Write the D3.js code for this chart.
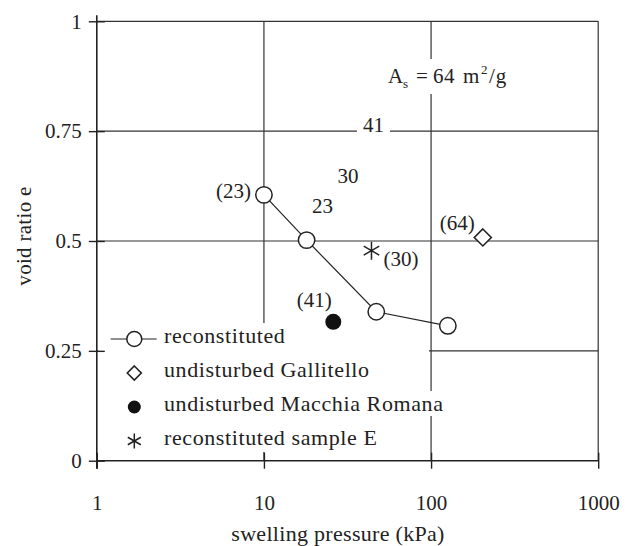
<!DOCTYPE html>
<html>
<head>
<meta charset="utf-8">
<script src="https://cdn.jsdelivr.net/npm/d3@7"></script>
<style>
  html, body { margin: 0; padding: 0; background: #fff; }
  svg { display: block; }
  text { font-family: "Liberation Serif", "Times New Roman", "DejaVu Serif", serif; fill: #222; }
</style>
</head>
<body>
<svg id="chart" width="631" height="546"></svg>
<script>
// Swelling pressure vs void ratio
const xTicks = [1, 10, 100, 1000];
const xTickLabels = ["1", "10", "100", "1000"];
const yTicks = [0, 0.25, 0.5, 0.75, 1];
const yTickLabels = ["0", "0.25", "0.5", "0.75", "1"];

// reconstituted series
const reconPressure = [10, 18, 47, 126];
const reconVoid = [0.605, 0.502, 0.339, 0.307];

// single specimens
const gallitelloPressure = [204];
const gallitelloVoid = [0.508];
const macchiaPressure = [26];
const macchiaVoid = [0.316];
const sampleEPressure = [44];
const sampleEVoid = [0.478];

// free annotations (data coordinates)
const noteText = ["23", "30", "41"];
const notePressure = [22.4, 31.8, 45.2];
const noteVoid = [0.564, 0.633, 0.749];

const legendLabels = ["reconstituted", "undisturbed Gallitello", "undisturbed Macchia Romana", "reconstituted sample E"];

const svg = d3.select("#chart");
const x = d3.scaleLog().domain([1, 1000]).range([96.8, 598.2]);
const y = d3.scaleLinear().domain([0, 1]).range([460.7, 21.3]);
const ink = "#222";
const serif = "Liberation Serif, Times New Roman, DejaVu Serif, serif";

// grid
const grid = svg.append("g").attr("stroke", "#333").attr("stroke-width", 1.2);
grid.selectAll("line.h").data(yTicks.filter(d => d > 0)).join("line")
  .attr("x1", x(1)).attr("x2", x(1000)).attr("y1", d => y(d)).attr("y2", d => y(d));
grid.selectAll("line.v").data(xTicks.filter(d => d > 1)).join("line")
  .attr("y1", y(1)).attr("y2", y(0)).attr("x1", d => x(d)).attr("x2", d => x(d));

// legend background hides the grid under it
const bgLayer = svg.append("g");
bgLayer.append("rect").attr("x", x(1) + 1.5).attr("y", 323).attr("width", 429 - x(1) - 1.5).attr("height", 129).attr("fill", "#fff");

// axes with ticks crossing the axis line
const xAxis = svg.append("g").attr("transform", `translate(0,${y(0)})`)
  .call(d3.axisBottom(x).tickValues(xTicks).tickFormat((d, i) => xTickLabels[i]).tickSize(8).tickPadding(26));
xAxis.attr("font-family", serif);
xAxis.select(".domain").attr("d", `M${x(1)},0H${x(1000)}`).attr("stroke", ink).attr("stroke-width", 1.6);
xAxis.selectAll(".tick line").attr("y1", -8).attr("y2", 8).attr("stroke", ink).attr("stroke-width", 1.4);
xAxis.selectAll(".tick text").attr("font-size", 21).attr("fill", ink);

const yAxis = svg.append("g").attr("transform", `translate(${x(1)},0)`)
  .call(d3.axisLeft(y).tickValues(yTicks).tickFormat((d, i) => yTickLabels[i]).tickSize(8).tickPadding(7));
yAxis.attr("font-family", serif);
yAxis.select(".domain").attr("d", `M0,${y(1) - 6}V${y(0) + 8}`).attr("stroke", ink).attr("stroke-width", 1.6);
yAxis.selectAll(".tick line").attr("x1", -8).attr("x2", 8).attr("stroke", ink).attr("stroke-width", 1.4);
yAxis.selectAll(".tick text").attr("font-size", 21).attr("fill", ink);

// axis titles
svg.append("text").attr("x", 338).attr("y", 541).attr("text-anchor", "middle")
  .attr("font-size", 22).attr("letter-spacing", 0.3).text("swelling pressure (kPa)");
svg.append("text").attr("transform", `translate(31,236) rotate(-90)`).attr("text-anchor", "middle")
  .attr("font-size", 21).attr("letter-spacing", 0.3).text("void ratio e");

// text with a white patch behind it so grid lines stop around it
function patched(sel, padX, padY) {
  sel.each(function () {
    const b = this.getBBox();
    bgLayer.append("rect").attr("x", b.x - padX).attr("y", b.y - padY)
      .attr("width", b.width + 2 * padX).attr("height", b.height + 2 * padY).attr("fill", "#fff");
  });
  return sel;
}

const labels = svg.append("g");

// specific surface note
const asNote = labels.append("text").attr("y", 83).attr("font-size", 21);
asNote.append("tspan").attr("x", 388).text("A");
asNote.append("tspan").attr("x", 403).attr("font-size", 13).attr("dy", 5).text("s");
asNote.append("tspan").attr("x", 416).attr("dy", -5).text("=");
asNote.append("tspan").attr("x", 433).attr("letter-spacing", 0.5).text("64");
asNote.append("tspan").attr("x", 463).text("m");
asNote.append("tspan").attr("x", 481).attr("font-size", 13).attr("dy", -9).text("2");
asNote.append("tspan").attr("x", 489).attr("dy", 9).attr("letter-spacing", 1).text("/g");
patched(asNote, 3, 3);

// free numbers
labels.selectAll("text.note").data(noteText).join("text")
  .attr("class", "note")
  .attr("x", (d, i) => x(notePressure[i])).attr("y", (d, i) => y(noteVoid[i]))
  .attr("text-anchor", "middle").attr("font-size", 21).text(d => d)
  .each(function (d) { if (d === "41") patched(d3.select(this), 6, 0); });

// reconstituted curve
const line = d3.line().x(d => x(d[0])).y(d => y(d[1]));
const reconPts = reconPressure.map((p, i) => [p, reconVoid[i]]);
svg.append("path").datum(reconPts).attr("d", line)
  .attr("fill", "none").attr("stroke", ink).attr("stroke-width", 1.2);
svg.selectAll("circle.recon").data(reconPts).join("circle").attr("class", "recon")
  .attr("cx", d => x(d[0])).attr("cy", d => y(d[1])).attr("r", 8.2)
  .attr("fill", "#fff").attr("stroke", ink).attr("stroke-width", 1.5);
labels.append("text").attr("x", x(reconPressure[0]) - 13).attr("y", y(reconVoid[0]) + 3)
  .attr("text-anchor", "end").attr("font-size", 21).text("(23)");

// markers
function diamond(g, cx, cy, s) {
  g.append("path").attr("d", `M${cx},${cy - s}L${cx + s},${cy}L${cx},${cy + s}L${cx - s},${cy}Z`)
    .attr("fill", "#fff").attr("stroke", ink).attr("stroke-width", 1.6);
}
function star(g, cx, cy, s) {
  const dx = s * Math.sin(Math.PI / 3), dy = s * Math.cos(Math.PI / 3);
  g.append("path").attr("d",
    `M${cx},${cy - s}V${cy + s}M${cx - dx},${cy - dy}L${cx + dx},${cy + dy}M${cx - dx},${cy + dy}L${cx + dx},${cy - dy}`)
    .attr("stroke", ink).attr("stroke-width", 1.5).attr("fill", "none");
}

const marks = svg.append("g");
gallitelloPressure.forEach((p, i) => {
  diamond(marks, x(p), y(gallitelloVoid[i]), 8.5);
  labels.append("text").attr("x", x(p) - 8).attr("y", y(gallitelloVoid[i]) - 7)
    .attr("text-anchor", "end").attr("font-size", 21).text("(64)");
});
macchiaPressure.forEach((p, i) => {
  marks.append("circle").attr("cx", x(p)).attr("cy", y(macchiaVoid[i])).attr("r", 8).attr("fill", "#111");
  labels.append("text").attr("x", x(p) - 19).attr("y", y(macchiaVoid[i]) - 15)
    .attr("text-anchor", "middle").attr("font-size", 21).text("(41)");
});
sampleEPressure.forEach((p, i) => {
  star(marks, x(p), y(sampleEVoid[i]), 9);
  labels.append("text").attr("x", x(p) + 12).attr("y", y(sampleEVoid[i]) + 15)
    .attr("font-size", 21).text("(30)");
});

// legend
const legend = svg.append("g");
const rowY = [339, 373, 407, 441];
const symX = 134.3;
legend.append("line").attr("x1", 110.7).attr("x2", 156.7).attr("y1", rowY[0]).attr("y2", rowY[0])
  .attr("stroke", ink).attr("stroke-width", 1.2);
legend.append("circle").attr("cx", symX).attr("cy", rowY[0]).attr("r", 7.5)
  .attr("fill", "#fff").attr("stroke", ink).attr("stroke-width", 1.5);
diamond(legend, symX, rowY[1], 7);
legend.append("circle").attr("cx", symX).attr("cy", rowY[2]).attr("r", 6.5).attr("fill", "#111");
star(legend, symX, rowY[3], 7.5);
legend.selectAll("text").data(legendLabels).join("text")
  .attr("x", 164).attr("y", (d, i) => rowY[i] + 4)
  .attr("font-size", 22).attr("letter-spacing", 0.6).text(d => d)
  .each(function (d, i) { if (i === 2) patched(d3.select(this), 2, 0); });
</script>
</body>
</html>
